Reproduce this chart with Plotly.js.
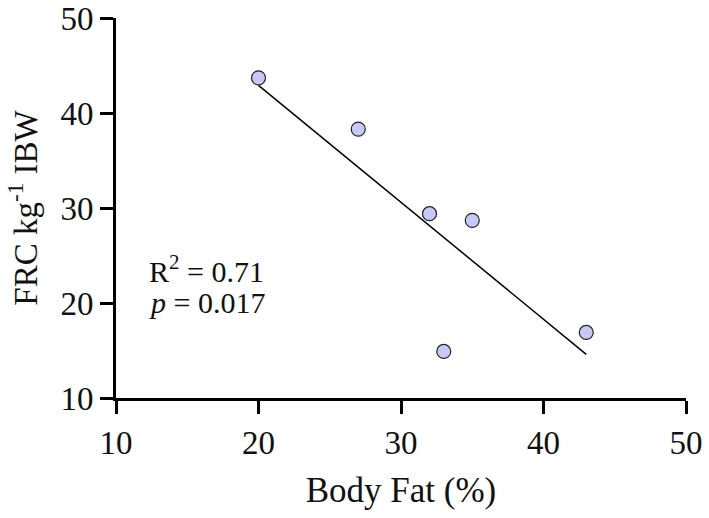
<!DOCTYPE html>
<html>
<head>
<meta charset="utf-8">
<script src="https://cdn.plot.ly/plotly-3.0.1.min.js"></script>
<style>html,body{margin:0;padding:0;background:#fff;}#chart{width:709px;height:518px;}</style>
</head>
<body>
<div id="chart"></div>
<script>
const bodyFat = [20, 27, 32, 35, 33, 43];
const frc = [43.7, 38.3, 29.4, 28.7, 14.9, 16.9];
const fitX = [20, 43];
const fitY = [42.9, 14.6];
const tickVals = [10, 20, 30, 40, 50];
const statLines = ["R<sup>2</sup> = 0.71", "<i>p</i> = 0.017"];
const statY = [23.6, 20.1];

const font = "Liberation Serif, Times New Roman, serif";

const data = [
  {x: fitX, y: fitY, mode: 'lines', type: 'scatter', line: {color: '#000', width: 1.5}, hoverinfo: 'skip', showlegend: false},
  {x: bodyFat, y: frc, mode: 'markers', type: 'scatter',
   marker: {size: 14, color: '#c8c8f6', line: {color: '#222', width: 1.2}}, showlegend: false}
];

const axisCommon = {
  showgrid: false, zeroline: false, showline: true, linecolor: '#000', linewidth: 3,
  ticks: 'outside', ticklen: 13, tickwidth: 3, tickcolor: '#000',
  tickfont: {family: font, size: 33, color: '#111'},
  tickvals: tickVals, range: [10, 50], fixedrange: true
};

const layout = {
  width: 709, height: 518,
  margin: {l: 116, r: 23, t: 18, b: 120},
  paper_bgcolor: '#fff', plot_bgcolor: '#fff',
  xaxis: Object.assign({}, axisCommon, {
    title: {text: 'Body Fat (%)', font: {family: font, size: 35, color: '#111'}, standoff: 18}
  }),
  yaxis: Object.assign({}, axisCommon, {
    title: {text: 'FRC kg<sup>-1</sup> IBW', font: {family: font, size: 33, color: '#111'}, standoff: 13}
  }),
  annotations: statLines.map((t, i) => ({
    x: 12.2, y: statY[i], xref: 'x', yref: 'y', text: t, showarrow: false,
    xanchor: 'left', yanchor: 'middle', font: {family: font, size: 30, color: '#111'}
  }))
};

Plotly.newPlot('chart', data, layout, {displayModeBar: false, staticPlot: true});
</script>
</body>
</html>
